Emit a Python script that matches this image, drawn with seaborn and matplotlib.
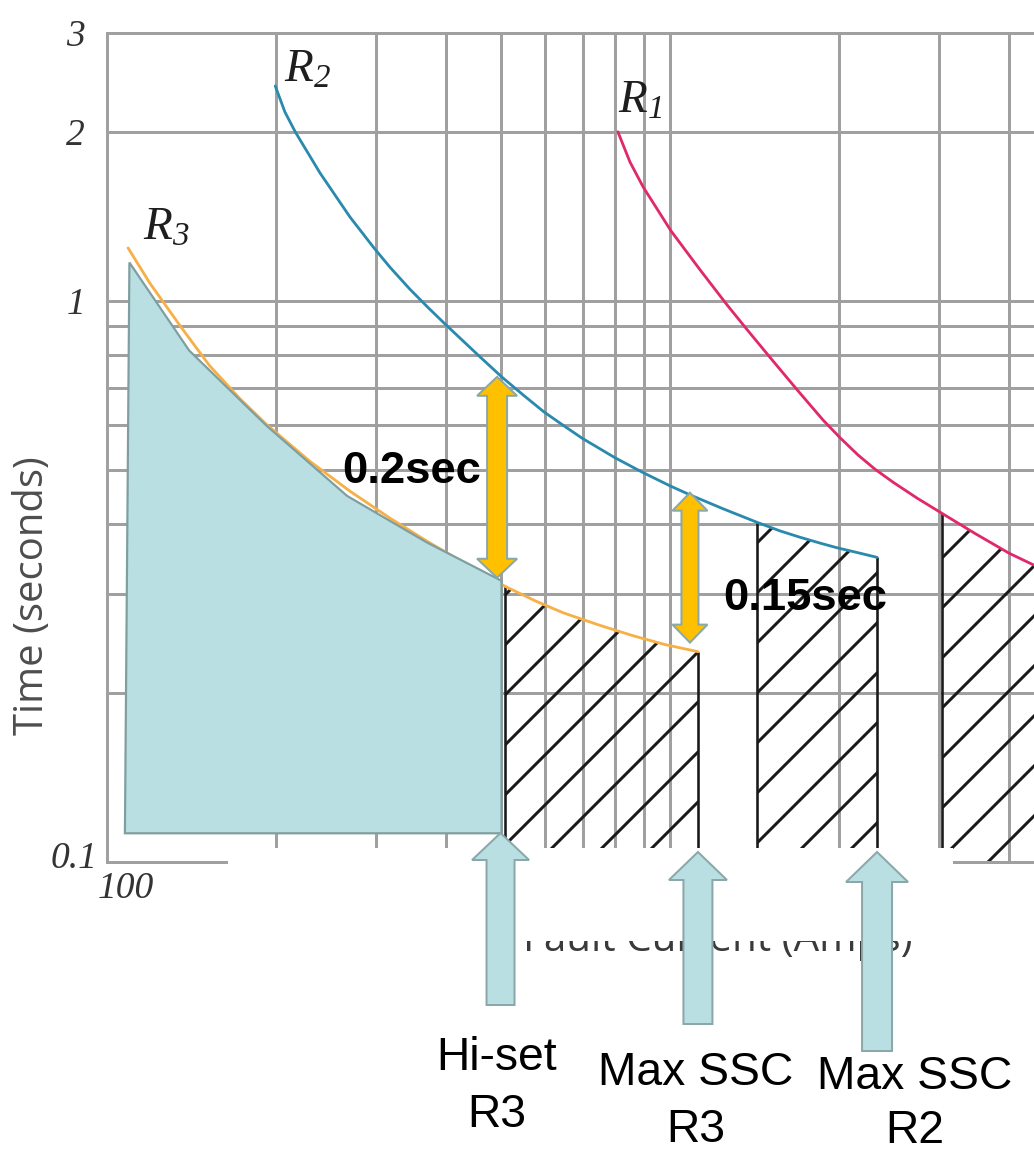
import numpy as np
import pandas as pd
import matplotlib
matplotlib.use("Agg")
import matplotlib.pyplot as plt
import seaborn as sns
from matplotlib.patches import Polygon, Rectangle
from matplotlib.ticker import LogLocator, NullFormatter
from matplotlib.transforms import ScaledTranslation

# ---------------- data ----------------
r1_current = [808, 849, 896, 1004, 1131, 1263, 1376, 1524, 1688, 1870, 2005, 2158, 2313, 2490,
              2747, 3042, 3480, 4001, 4431]
r1_time = [2.0, 1.767, 1.595, 1.332, 1.135, 0.983, 0.884, 0.781, 0.691, 0.613, 0.570, 0.531,
           0.501, 0.475, 0.445, 0.418, 0.385, 0.355, 0.338]

r2_current = [199, 207, 216, 239, 270, 298, 318, 345, 372, 399, 460, 503, 548, 597, 646, 698,
              799, 896, 1000, 1085, 1242, 1427, 1568, 1702, 1847, 1980, 2149, 2332]
r2_time = [2.414, 2.170, 1.999, 1.689, 1.411, 1.242, 1.148, 1.049, 0.972, 0.908, 0.794, 0.731,
           0.680, 0.634, 0.600, 0.569, 0.525, 0.494, 0.468, 0.451, 0.426, 0.403, 0.389, 0.379,
           0.370, 0.363, 0.356, 0.349]

r3_current = [109, 119, 135, 152, 172, 192, 229, 270, 318, 370, 433, 509, 576, 646, 751, 860,
              980, 1121]
r3_time = [1.242, 1.077, 0.901, 0.767, 0.670, 0.602, 0.518, 0.458, 0.410, 0.373, 0.340, 0.310,
           0.292, 0.278, 0.264, 0.253, 0.244, 0.237]

zone_current = [107.6, 109.6, 140, 192, 267, 370, 502, 502]
zone_time = [0.1125, 1.17, 0.815, 0.599, 0.449, 0.371, 0.317, 0.1125]

# hatched operating zones: (left current, right current, bounding curve)
hatch_zones = [(510, 1121, "R3"), (1427, 2332, "R2"), (3042, 4431, "R1")]

# grading margins: (label, current, upper time, lower time)
margins = [("0.2sec", 493, 0.732, 0.321), ("0.15sec", 1085, 0.455, 0.246)]

# settings marked below the axis: (label, current)
settings = [("Hi-set\nR3", 500), ("Max SSC\nR3", 1121), ("Max SSC\nR2", 2332)]

y_ticks = [0.1, 1, 2, 3]
y_tick_labels = ["0.1", "1", "2", "3"]
x_ticks = [100, 1000]
x_tick_labels = ["100", "1000"]
x_limits = (100, 4431)
y_limits = (0.1, 3)

# ---------------- styling ----------------
W, H, DPI = 1034, 1155, 300
PX = 72 / DPI  # points per pixel

GRID = "#a0a0a0"
R1_C, R2_C, R3_C = "#e0286b", "#2a8aae", "#f7b046"
ZONE_FILL, ZONE_EDGE = "#b9dfe2", "#7f9ea0"
ARROW_BLUE, ARROW_EDGE = "#b9dfe3", "#8aa7a9"
ARROW_ORANGE = "#ffc000"
INK = "#1a1a1a"

sns.set_theme(style="white")
plt.rcParams.update({
    "font.family": ["Liberation Sans", "DejaVu Sans"],
    "mathtext.fontset": "custom",
    "mathtext.it": "Liberation Serif:italic",
    "mathtext.rm": "Liberation Serif:italic",
    "mathtext.bf": "Liberation Serif:bold",
    "hatch.linewidth": 3.0 * PX,
    "hatch.color": INK,
})

fig = plt.figure(figsize=(W / DPI, H / DPI), dpi=DPI)
fig.patch.set_facecolor("white")
ax = fig.add_axes([107 / W, (H - 862) / H, (W - 107) / W, (862 - 33) / H])
ax.set_xscale("log")
ax.set_yscale("log")
ax.set_xlim(*x_limits)
ax.set_ylim(*y_limits)

curves = {"R1": (r1_current, r1_time, R1_C),
          "R2": (r2_current, r2_time, R2_C),
          "R3": (r3_current, r3_time, R3_C)}


def curve_segment(xs, ts, x0, x1):
    lx, lt = np.log10(xs), np.log10(ts)
    t0 = 10 ** np.interp(np.log10(x0), lx, lt)
    t1 = 10 ** np.interp(np.log10(x1), lx, lt)
    inner = [(x, t) for x, t in zip(xs, ts) if x0 < x < x1]
    hx = [x0] + [p[0] for p in inner] + [x1]
    ht = [t0] + [p[1] for p in inner] + [t1]
    return hx, ht


# hatched zones
for x0, x1, name in hatch_zones:
    xs, ts, _ = curves[name]
    hx, ht = curve_segment(xs, ts, x0, x1)
    ax.fill_between(hx, ht, y_limits[0], facecolor="none", edgecolor=INK,
                    hatch="//", linewidth=0, zorder=1.5)
    edges_x, edges_t = [x0], [ht[0]]
    if x1 < x_limits[1]:
        edges_x.append(x1)
        edges_t.append(ht[-1])
    ax.vlines(edges_x, y_limits[0], edges_t, colors=INK, lw=2.6 * PX, zorder=1.6)

# relay curves
for name, (xs, ts, col) in curves.items():
    df = pd.DataFrame({"current": xs, "time": ts})
    sns.lineplot(data=df, x="current", y="time", color=col, lw=2.8 * PX,
                 estimator=None, sort=False, ax=ax, zorder=3)

# shaded R3 operating region
ax.fill(zone_current, zone_time, facecolor=ZONE_FILL, edgecolor=ZONE_EDGE,
        lw=2.2 * PX, zorder=4)

# grid / axes
ax.set_yticks(y_ticks, labels=y_tick_labels, fontfamily="Liberation Serif",
              fontstyle="italic", fontsize=9.0, color="#333333")
ax.set_xticks(x_ticks, labels=x_tick_labels, fontfamily="Liberation Serif",
              fontstyle="italic", fontsize=9.0, color="#333333")
ax.xaxis.set_minor_locator(LogLocator(base=10, subs=np.arange(2, 10)))
ax.yaxis.set_minor_locator(LogLocator(base=10, subs=np.arange(2, 10)))
ax.xaxis.set_minor_formatter(NullFormatter())
ax.yaxis.set_minor_formatter(NullFormatter())
ax.grid(which="both", color=GRID, lw=3 * PX)
ax.set_axisbelow(True)
ax.tick_params(which="both", length=0)
ax.tick_params(axis="y", pad=22 * PX)
ax.tick_params(axis="x", pad=9 * PX)
for side in ["left", "bottom", "top"]:
    ax.spines[side].set_color(GRID)
    ax.spines[side].set_linewidth(3 * PX)
ax.spines["right"].set_visible(False)

for lab in ax.get_yticklabels():
    if lab.get_text() == "0.1":
        lab.set_transform(lab.get_transform() + ScaledTranslation(12 / DPI, 7 / DPI, fig.dpi_scale_trans))
for lab in ax.get_xticklabels():
    lab.set_transform(lab.get_transform() + ScaledTranslation(19 / DPI, 0, fig.dpi_scale_trans))

ax.set_ylabel("Time (seconds)", fontfamily="Open Sans", fontsize=9.6, color="#4d4d4d")
ax.yaxis.set_label_coords((33 - 107) / (W - 107), (862 - 596) / (862 - 33))
ax.yaxis.label.set_va("center")
ax.set_xlabel("Fault Current (Amps)", fontfamily="Open Sans", fontsize=9.7, color="#3a3a3a")
ax.xaxis.set_label_coords((718 - 107) / (W - 107), (862 - 951) / (862 - 33))
ax.xaxis.label.set_va("baseline")


def to_px(x, t):
    X, Y = ax.transData.transform((x, t))
    return X, H - Y


# ---------------- overlay (pixel coordinates) ----------------
ov = fig.add_axes([0, 0, 1, 1])
ov.set_xlim(0, W)
ov.set_ylim(H, 0)
ov.set_axis_off()
ov.set_zorder(10)
ov.patch.set_alpha(0)

ov.add_patch(Rectangle((228, 848), 725, 93, facecolor="white", edgecolor="none", zorder=1))


def arrow_up(xc, ytip, ybot, hw, hl, sw):
    return [(xc, ytip), (xc + hw / 2, ytip + hl), (xc + sw / 2, ytip + hl), (xc + sw / 2, ybot),
            (xc - sw / 2, ybot), (xc - sw / 2, ytip + hl), (xc - hw / 2, ytip + hl)]


def arrow_double(xc, yt, yb, hw, hl, sw):
    return [(xc, yt), (xc + hw / 2, yt + hl), (xc + sw / 2, yt + hl), (xc + sw / 2, yb - hl),
            (xc + hw / 2, yb - hl), (xc, yb), (xc - hw / 2, yb - hl), (xc - sw / 2, yb - hl),
            (xc - sw / 2, yt + hl), (xc - hw / 2, yt + hl)]


# setting arrows + labels
arrow_geom = [(833, 1005, 57, 27, 28), (852, 1024, 58, 28, 29), (852, 1051, 62, 30, 30)]
label_geom = [(497, 1070, 57), (696, 1085, 57), (915, 1089, 54)]
for (label, cur), (ytip, ybot, hw, hl, sw), (lx, ly, gap) in zip(settings, arrow_geom, label_geom):
    xc, _ = to_px(cur, 1)
    ov.add_patch(Polygon(arrow_up(xc, ytip, ybot, hw, hl, sw), closed=True,
                         facecolor=ARROW_BLUE, edgecolor=ARROW_EDGE, lw=2 * PX, zorder=2))
    for i, line in enumerate(label.split("\n")):
        ov.text(lx, ly + gap * i, line, ha="center", va="baseline", fontsize=11.1,
                fontfamily="Liberation Sans", color="black", zorder=3)

# margin arrows + labels
margin_geom = [(40, 19, 20), (35, 18, 17)]
margin_text = [(412, 483), (805, 610)]
for (label, cur, t_hi, t_lo), (hw, hl, sw), (tx, ty) in zip(margins, margin_geom, margin_text):
    xc, yt = to_px(cur, t_hi)
    _, yb = to_px(cur, t_lo)
    ov.add_patch(Polygon(arrow_double(xc, yt, yb, hw, hl, sw), closed=True,
                         facecolor=ARROW_ORANGE, edgecolor=ARROW_EDGE, lw=2 * PX, zorder=2))
    ov.text(tx, ty, label, ha="center", va="baseline", fontsize=10.9, fontweight="bold",
            fontfamily="Liberation Sans", color="black", zorder=3)

# curve names
for txt, (x, y) in [(r"$R_2$", (284, 82)), (r"$R_3$", (143, 240)), (r"$R_1$", (618, 113))]:
    ov.text(x, y, txt, ha="left", va="baseline", fontsize=11.3, color="#1e1e1e", zorder=3)

fig.savefig("out.png", dpi=DPI, facecolor="white")
